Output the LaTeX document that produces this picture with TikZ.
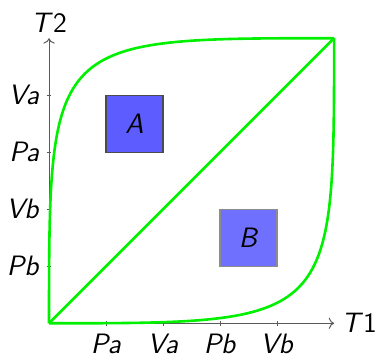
\documentclass[tikz,border=0pt]{standalone}
\usepackage{tikz}
\usepackage{xcolor}
\usetikzlibrary{arrows.meta,positioning}
\definecolor{axisgray}{HTML}{5A5A5A}
\definecolor{curvegreen}{HTML}{00F000}
\definecolor{fillA}{HTML}{5C5CFF}
\definecolor{fillB}{HTML}{7070FF}
\tikzset{
  axis/.style={->,line width=0.5pt,draw=axisgray},
  tick/.style={line width=0.5pt,draw=axisgray},
  curve/.style={line width=1.3pt,draw=curvegreen},
  region/.style={draw=#1,line width=0.6pt,minimum size=1cm,inner sep=0pt},
  lbl/.style={font=\sffamily\fontsize{14}{17}\selectfont}
}

\begin{document}
\begin{tikzpicture}
        \useasboundingbox (-0.86,-0.58) rectangle (5.84,5.67);
        \coordinate (O) at (0,0);
        \coordinate (X) at (5,0);
        \coordinate (Y) at (0,5);
        \coordinate (C) at (5,5);
        % axes
        \draw[axis] (O) -- (X) node[lbl,right] (t1) {\textit{T}1};
        \draw[axis] (O) -- (Y) node[lbl,above,inner sep=2.5pt] (t2) {\textit{T}2};
        \foreach \i/\lx/\ly in {1/Pa/Pb,2/Va/Vb,3/Pb/Pa,4/Vb/Va} {
          \draw[tick] (\i,-0.04) -- (\i,0.04) node[lbl,below=0.02cm] (x\i) at (\i,-0.04) {\textit{\lx}};
          \draw[tick] (-0.04,\i) -- (0.04,\i) node[lbl,left] (y\i) at (-0.04,\i) {\textit{\ly}};
        }
        % regions
        \node[region=black!70,fill=fillA,lbl] (A) at (1.5,3.5) {\textit{A}};
        \node[region=black!45,fill=fillB,lbl] (B) at (3.5,1.5) {\textit{B}};
        % curves
        \draw[curve] (O) .. controls (Y) and (Y) .. (C);
        \draw[curve] (O) .. controls (X) and (X) .. (C);
        \draw[curve] (O) -- (C);
      \end{tikzpicture}
\end{document}
